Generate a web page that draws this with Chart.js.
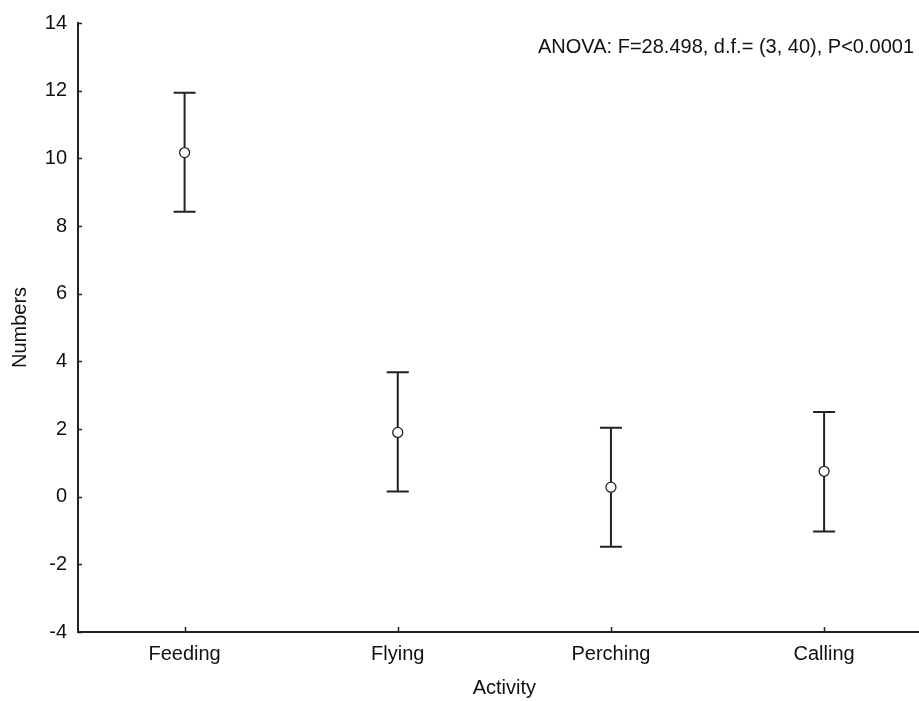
<!DOCTYPE html>
<html><head><meta charset="utf-8">
<script src="https://cdn.jsdelivr.net/npm/chart.js@4/dist/chart.umd.min.js"></script>
<style>
html,body{margin:0;padding:0;overflow:hidden;background:#fff;width:919px;height:701px}
#wrap{width:937px;height:701px;position:relative}
</style>
</head><body><div id="wrap"><canvas id="c" width="937" height="701"></canvas></div>
<script>
const categories = ['Feeding', 'Flying', 'Perching', 'Calling'];
const means = [10.17, 1.90, 0.28, 0.75];
const upper = [11.94, 3.68, 2.04, 2.50];
const lower = [8.42, 0.15, -1.48, -1.03];
const yTicks = [-4, -2, 0, 2, 4, 6, 8, 10, 12, 14];
const xTitle = 'Activity';
const yTitle = 'Numbers';
const annotation = 'ANOVA: F=28.498, d.f.= (3, 40), P<0.0001';

const FONT = '"Liberation Sans", Arial, sans-serif';
const FS = 20;
const LINE = '#222';
const TEXT = '#111';

const errorBars = {
  id: 'errorBars',
  beforeDatasetsDraw(chart) {
    const {ctx, scales: {x, y}} = chart;
    ctx.save();
    ctx.strokeStyle = LINE;
    ctx.lineWidth = 2;
    categories.forEach((c, i) => {
      const px = x.getPixelForValue(i);
      const yu = y.getPixelForValue(upper[i]);
      const yl = y.getPixelForValue(lower[i]);
      ctx.beginPath();
      ctx.moveTo(px, yu); ctx.lineTo(px, yl);
      ctx.moveTo(px - 11, yu); ctx.lineTo(px + 11, yu);
      ctx.moveTo(px - 11, yl); ctx.lineTo(px + 11, yl);
      ctx.stroke();
    });
    ctx.restore();
  },
  afterDraw(chart) {
    const {ctx, scales: {x, y}, chartArea} = chart;
    ctx.save();
    ctx.strokeStyle = LINE;
    ctx.lineWidth = 1.5;
    ctx.beginPath();
    yTicks.forEach(v => {
      const py = Math.round(y.getPixelForValue(v)) + 0.5;
      ctx.moveTo(chartArea.left, py); ctx.lineTo(chartArea.left + 4, py);
    });
    categories.forEach((c, i) => {
      const px = Math.round(x.getPixelForValue(i)) + 0.5;
      ctx.moveTo(px, chartArea.bottom); ctx.lineTo(px, chartArea.bottom - 5);
    });
    ctx.stroke();
    ctx.fillStyle = TEXT;
    ctx.font = FS + 'px ' + FONT;
    ctx.textAlign = 'right';
    ctx.textBaseline = 'alphabetic';
    ctx.fillText(annotation, 914, 53);
    ctx.restore();
  }
};

new Chart(document.getElementById('c'), {
  type: 'line',
  data: {
    labels: categories,
    datasets: [{
      data: means,
      showLine: false,
      pointRadius: 5,
      pointHoverRadius: 5,
      pointBackgroundColor: '#fff',
      pointBorderColor: LINE,
      pointBorderWidth: 1.3
    }]
  },
  options: {
    responsive: false,
    devicePixelRatio: 1,
    animation: false,
    events: [],
    layout: {padding: {top: 20, left: 0, right: 0, bottom: 0}},
    plugins: {legend: {display: false}, tooltip: {enabled: false}},
    scales: {
      x: {
        type: 'category',
        offset: true,
        grid: {display: true, drawOnChartArea: false, drawTicks: false},
        border: {display: true, color: LINE, width: 2},
        ticks: {color: TEXT, font: {family: FONT, size: FS}, padding: 10, maxRotation: 0},
        title: {display: true, text: xTitle, color: TEXT, font: {family: FONT, size: FS}, padding: {bottom: 1, top: 0}},
        afterFit(s) { s.height = 69; }
      },
      y: {
        min: -4, max: 14,
        grid: {display: true, drawOnChartArea: false, drawTicks: false},
        border: {display: true, color: LINE, width: 2},
        afterBuildTicks(s) { s.ticks = yTicks.map(v => ({value: v})); },
        ticks: {color: TEXT, font: {family: FONT, size: FS}, padding: 11},
        title: {display: true, text: yTitle, color: TEXT, font: {family: FONT, size: FS}, padding: {top: 8, bottom: 0}},
        afterFit(s) { s.width = 78; }
      }
    }
  },
  plugins: [errorBars]
});
</script>
</body></html>
